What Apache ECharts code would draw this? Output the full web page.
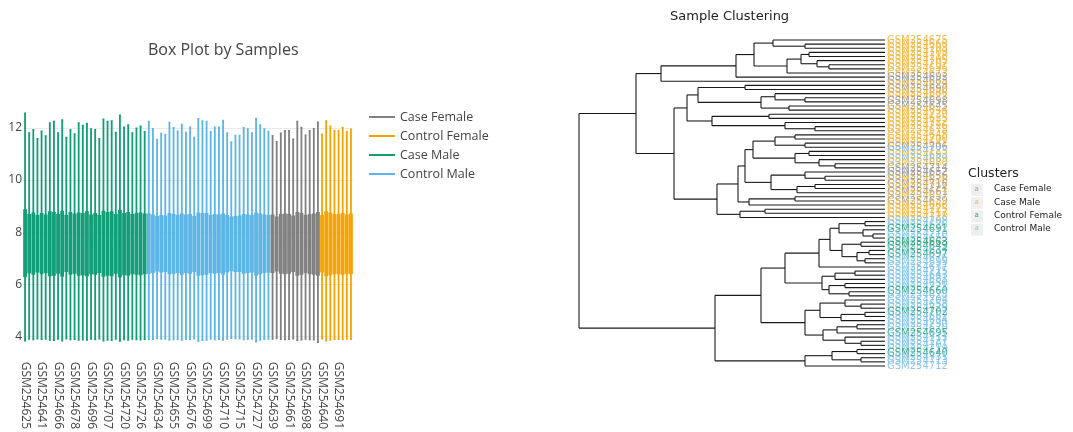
<!DOCTYPE html>
<html><head><meta charset="utf-8">
<script src="https://cdn.jsdelivr.net/npm/echarts@6/dist/echarts.min.js"></script>
<style>html,body{margin:0;padding:0;background:#fff}#c{width:1073px;height:432px}</style>
</head><body><div id="c"></div>
<script>
// ---------- groups (sample numbers, GSM254xxx) ----------
const caseMaleIds = [625,627,629,636,641,644,648,657,666,668,672,675,678,680,686,693,696,700,703,705,707,709,717,718,720,722,724,725,726,728];
const controlMaleIds = [626,628,634,637,643,650,655,658,662,670,676,681,684,689,699,701,704,708,710,711,712,713,715,719,721,723,727,729,730,731];
const caseFemaleIds = [639,645,652,656,661,683,690,692,698,706,714,716];
const controlFemaleIds = [640,649,660,663,691,695,697,702];

// ---------- box statistics in box order (case male, control male, case female, control female) ----------
const whiskerHigh = [
 12.55,11.80,11.92,11.58,11.86,11.68,12.18,12.24,11.80,12.30,11.62,11.92,11.76,12.18,12.08,12.16,11.95,11.92,11.58,12.32,12.24,12.26,11.82,12.48,12.02,12.10,11.80,11.98,12.06,11.84,
 12.24,11.96,11.55,11.78,11.74,12.20,12.00,11.86,12.12,11.82,12.02,11.62,12.34,12.26,12.24,11.84,12.02,12.02,12.28,11.80,11.45,11.70,11.70,12.00,11.95,11.80,12.35,12.10,11.95,11.85,
 11.69,11.46,11.79,11.88,11.88,11.56,12.24,12.01,11.71,11.88,11.96,12.21,
 11.75,12.26,12.06,11.89,11.89,12.01,11.84,11.94];
const q3 = [
 8.84,8.66,8.72,8.62,8.70,8.64,8.76,8.74,8.66,8.78,8.62,8.74,8.68,8.72,8.70,8.76,8.64,8.70,8.62,8.78,8.74,8.76,8.66,8.82,8.70,8.74,8.66,8.70,8.72,8.68,
 8.68,8.64,8.58,8.62,8.60,8.70,8.66,8.62,8.68,8.64,8.66,8.58,8.72,8.70,8.70,8.62,8.66,8.64,8.68,8.62,8.56,8.58,8.60,8.66,8.64,8.62,8.72,8.68,8.64,8.62,
 8.64,8.56,8.66,8.68,8.66,8.60,8.74,8.70,8.62,8.66,8.68,8.74,
 8.62,8.76,8.72,8.66,8.66,8.70,8.64,8.68];
const median = [
 7.58,7.55,7.56,7.54,7.56,7.55,7.57,7.57,7.55,7.58,7.53,7.56,7.55,7.57,7.56,7.57,7.55,7.56,7.54,7.58,7.57,7.57,7.55,7.58,7.56,7.57,7.55,7.56,7.56,7.55,
 7.56,7.55,7.53,7.55,7.54,7.57,7.56,7.55,7.57,7.55,7.56,7.53,7.58,7.57,7.57,7.55,7.56,7.55,7.57,7.54,7.52,7.54,7.54,7.56,7.55,7.55,7.58,7.57,7.55,7.55,
 7.55,7.53,7.55,7.56,7.55,7.54,7.58,7.57,7.55,7.56,7.56,7.58,
 7.54,7.58,7.57,7.55,7.55,7.56,7.55,7.56];
const q1 = [
 6.30,6.45,6.40,6.48,6.42,6.46,6.34,6.36,6.44,6.32,6.50,6.40,6.44,6.36,6.38,6.34,6.42,6.40,6.46,6.32,6.36,6.34,6.44,6.30,6.38,6.36,6.42,6.40,6.38,6.42,
 6.44,6.46,6.52,6.48,6.50,6.42,6.44,6.46,6.40,6.46,6.44,6.50,6.36,6.38,6.40,6.46,6.44,6.46,6.40,6.48,6.54,6.50,6.50,6.44,6.46,6.48,6.36,6.42,6.46,6.48,
 6.46,6.52,6.44,6.42,6.44,6.50,6.36,6.40,6.46,6.42,6.40,6.36,
 6.48,6.34,6.38,6.42,6.42,6.40,6.44,6.42];
const whiskerLow = [
 3.84,3.90,3.88,3.91,3.89,3.90,3.86,3.85,3.90,3.84,3.91,3.88,3.89,3.86,3.87,3.86,3.90,3.88,3.91,3.84,3.86,3.85,3.90,3.83,3.88,3.86,3.90,3.88,3.87,3.89,
 3.88,3.89,3.92,3.90,3.90,3.86,3.88,3.89,3.86,3.89,3.88,3.91,3.82,3.85,3.86,3.90,3.88,3.89,3.86,3.90,3.93,3.91,3.91,3.88,3.89,3.90,3.80,3.86,3.89,3.90,
 3.90,3.92,3.89,3.88,3.89,3.91,3.85,3.87,3.90,3.88,3.87,3.78,
 3.91,3.84,3.86,3.89,3.89,3.88,3.90,3.89];

// ---------- dendrogram ----------
const dendroOrder = [675,668,703,709,718,705,707,696,672,692,683,629,690,686,627,698,645,644,720,625,722,726,678,648,700,641,706,723,693,689,680,714,652,656,636,716,724,661,657,639,666,725,717,728,
 708,626,691,710,655,663,649,634,697,676,699,637,715,643,681,650,721,660,628,704,658,729,702,662,684,730,670,695,711,727,701,719,640,731,713,712];
// [child, child, mergeHeight]; numbers are positions in dendroOrder
const dendroTree =
[
  [
    [
      [
        [
          [0, [1, 2, 40], 56],
          [[[3, 4, 38], [5, [6, 7, 28], 34], 42], 8, 49],
          65.5],
        9, 74.5],
      10, 112],
    [
      [
        [[11, 12, 70], [[13, [14, 15, 40], 55], [16, 17, 48], 62], 93.5],
        [[18, 19, 58], [20, [21, 22, 35], 50], 86.5],
        99],
      [
        [
          [
            [[[23, 24, 45], [25, 26, 40], 55], [[27, 28, 38], [29, [30, 31, 25], 33], 45], 66],
            [[32, [33, 34, 30], 40], [[35, 36, 35], 37, 44], 57],
            70],
          [[38, 39, 45], 40, 68],
          73.5],
        [[41, 42, 60], 43, 72.5],
        84],
      105.5],
    124.5],
  [
    [
      [
        [[[[44, 45, 10], [46, [47, 48, 6], 11], 23], [[49, 50, 12], [[51, 52, 8], [53, 54, 10], 14], 21.5], 27.5], 55, 33],
        [[[56, 57, 15], 58, 25], [[59, 60, 20], [61, 62, 18], 28], 31.5],
        50],
      [[[63, [64, 65, 12], 20], [[66, 67, 10], 68, 22], 32.5], [[[69, 70, 14], 71, 24], [72, [73, 74, 12], 20], 31], 40],
      62],
    [[[75, 76, 14], [77, 78, 12], 26.5], 79, 40],
    85],
  153];

const legendOrder = ['Case Female', 'Control Female', 'Case Male', 'Control Male'];
const clusterLegend = ['Case Female', 'Case Male', 'Control Female', 'Control Male'];

// ---------- styling ----------
const boxColors = {'Case Female': '#808080', 'Control Female': '#F5A300', 'Case Male': '#109E76', 'Control Male': '#5BB5E6'};
const boxFill = {'Case Female': 'rgba(128,128,128,0.85)', 'Control Female': 'rgba(245,163,0,0.85)', 'Case Male': 'rgba(16,158,118,0.85)', 'Control Male': 'rgba(91,181,230,0.85)'};
const dendroColors = {'Case Female': '#9a9a9a', 'Case Male': '#F5B63C', 'Control Female': '#2AA676', 'Control Male': '#7FC3EC'};

function groupOf(id) {
  if (caseMaleIds.includes(id)) return 'Case Male';
  if (controlMaleIds.includes(id)) return 'Control Male';
  if (caseFemaleIds.includes(id)) return 'Case Female';
  return 'Control Female';
}
function sampleName(id) { return 'GSM254' + id; }

const boxOrder = caseMaleIds.concat(controlMaleIds, caseFemaleIds, controlFemaleIds);
const boxData = boxOrder.map((id, i) => {
  const g = groupOf(id);
  return {value: [whiskerLow[i], q1[i], median[i], q3[i], whiskerHigh[i]],
          itemStyle: {color: boxFill[g], borderColor: boxColors[g], borderWidth: 1.8}};
});

// dendrogram segments from tree
const segs = [];
function layout(node) {
  if (typeof node === 'number') return {y: node, h: 0};
  const a = layout(node[0]), b = layout(node[1]), h = node[2];
  segs.push([h, a.y, h, b.y]);
  segs.push([h, a.y, a.h, a.y]);
  segs.push([h, b.y, b.h, b.y]);
  return {y: (a.y + b.y) / 2, h: h};
}
layout(dendroTree);

const chart = echarts.init(document.getElementById('c'), null, {renderer: 'canvas'});
const FONT = '"Open Sans", "Liberation Sans", Arial, sans-serif';
const DJ = '"DejaVu Sans", Verdana, sans-serif';

const graphics = [];
graphics.push({type: 'text', left: 968, top: 167, style: {text: 'Clusters', font: '12.5px ' + DJ, fill: '#222'}});
clusterLegend.forEach((g, k) => {
  const cy = 190 + k * 13.2;
  graphics.push({type: 'rect', left: 971, top: cy - 6, shape: {width: 12, height: 12}, style: {fill: '#efefef'}});
  graphics.push({type: 'text', left: 974.5, top: cy - 4.5, style: {text: 'a', font: '7px ' + DJ, fill: dendroColors[g]}});
  graphics.push({type: 'text', left: 994, top: cy - 5.5, style: {text: g, font: '9px ' + DJ, fill: '#222'}});
});

const option = {
  animation: false,
  backgroundColor: '#fff',
  title: [
    {text: 'Box Plot by Samples', left: 143, top: 37, textStyle: {fontFamily: FONT, fontSize: 16, fontWeight: 'normal', color: '#444'}},
    {text: 'Sample Clustering', left: 665, top: 5, textStyle: {fontFamily: DJ, fontSize: 13, fontWeight: 'normal', color: '#222'}}
  ],
  legend: {
    data: legendOrder, orient: 'vertical', left: 364, top: 105, icon: 'rect', itemWidth: 26, itemHeight: 2,
    itemGap: 5, textStyle: {fontFamily: FONT, fontSize: 12.5, color: '#444', lineHeight: 14}
  },
  grid: [
    {left: 23, top: 107, width: 330, height: 244},
    {left: 579, top: 40, width: 306, height: 326}
  ],
  xAxis: [
    {type: 'category', gridIndex: 0, data: boxOrder.map(sampleName),
     axisLine: {show: false}, axisTick: {show: false},
     axisLabel: {interval: 3, rotate: -90, margin: 15, fontFamily: FONT, fontSize: 12, color: '#444'},
     splitLine: {show: false}},
    {type: 'value', gridIndex: 1, min: 0, max: 153, inverse: true, show: false}
  ],
  yAxis: [
    {type: 'value', gridIndex: 0, min: 3.6, max: 12.8, splitNumber: 5,
     axisLine: {show: false}, axisTick: {show: false},
     axisLabel: {margin: 1, fontFamily: FONT, fontSize: 12, color: '#444', showMinLabel: false, showMaxLabel: false},
     splitLine: {lineStyle: {color: '#eaeaea', width: 1}, showMinLine: false, showMaxLine: false}},
    {type: 'value', gridIndex: 1, min: 0, max: 79, inverse: true, show: false}
  ],
  series: [
    {type: 'boxplot', name: 'samples', xAxisIndex: 0, yAxisIndex: 0, boxWidth: [2, 2], data: boxData},
    ...legendOrder.map(g => ({type: 'line', name: g, xAxisIndex: 0, yAxisIndex: 0, data: [], color: boxColors[g]})),
    {type: 'custom', name: 'dendro', xAxisIndex: 1, yAxisIndex: 1, data: segs,
     dimensions: ['h1', 'y1', 'h2', 'y2'], encode: {x: [0, 2], y: [1, 3]},
     renderItem: function (params, api) {
       const p1 = api.coord([api.value(0), api.value(1)]);
       const p2 = api.coord([api.value(2), api.value(3)]);
       return {type: 'line', shape: {x1: p1[0], y1: p1[1], x2: p2[0], y2: p2[1]},
               style: {stroke: '#1a1a1a', lineWidth: 1.1}};
     }},
    {type: 'custom', name: 'leaves', xAxisIndex: 1, yAxisIndex: 1,
     data: dendroOrder.map((id, i) => [0, i]),
     renderItem: function (params, api) {
       const p = api.coord([api.value(0), api.value(1)]);
       const id = dendroOrder[params.dataIndex];
       return {type: 'text', x: p[0] + 2, y: p[1],
               style: {text: sampleName(id), font: '10px ' + DJ, fill: dendroColors[groupOf(id)],
                       textAlign: 'left', textVerticalAlign: 'middle', opacity: 0.9}};
     }}
  ],
  graphic: graphics
};
chart.setOption(option);
</script></body></html>
